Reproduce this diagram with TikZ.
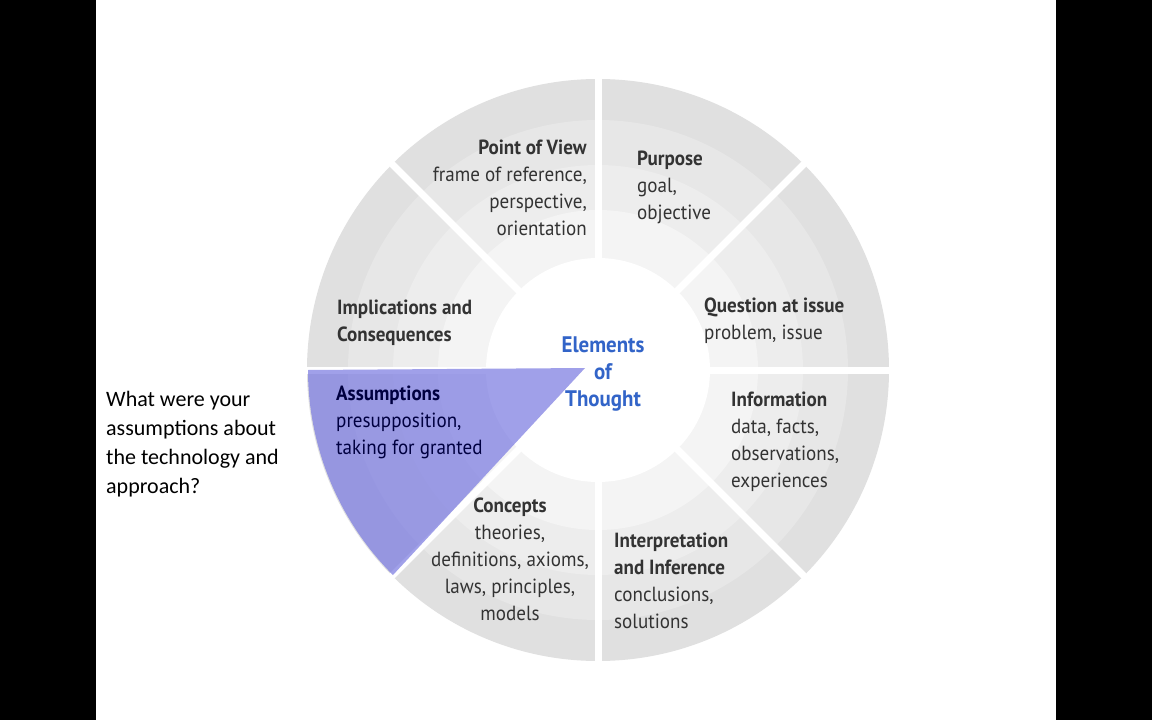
\documentclass[tikz,border=0pt]{standalone}
\usepackage{fontspec}
\setmainfont{PT Sans}[FakeStretch=0.93]
\newfontfamily\calfont{Carlito}
\definecolor{wedge}{RGB}{120,120,225}
\definecolor{elblue}{RGB}{50,100,200}
\begin{document}
\begin{tikzpicture}[x=1pt,y=-1pt,
  bl/.style={font=\fontsize{20.5}{27}\selectfont, text=black!80, inner sep=0pt}]
\useasboundingbox (0,0) rectangle (1152,720);
\fill[black] (0,0) rectangle (96,720);
\fill[black] (1056,0) rectangle (1152,720);
\fill[white] (96,0) rectangle (1056,720);
\coordinate (c) at (598,370);
\fill[gray!24] (c) circle (291);
\fill[gray!19] (c) circle (250);
\fill[gray!14] (c) circle (205);
\fill[gray!9] (c) circle (160);
\fill[white] (c) circle (112);
\foreach \a in {0,45,...,315}
  \draw[white,line width=7pt] (c) -- ++(\a:-300);
\fill[wedge,opacity=0.7] (585,368) -- (308,370) arc[start angle=180,end angle=135,radius=290] -- cycle;
\node[bl,anchor=north east,align=right] (pv) at (587,140) {\textbf{Point of View}\\frame of reference,\\perspective,\\orientation};
\node[bl,anchor=north west,align=left] (pu) at (637,151) {\textbf{Purpose}\\goal,\\objective};
\node[bl,anchor=north west,align=left] (qi) at (704,298) {\textbf{Question at issue}\\problem, issue};
\node[bl,anchor=north west,align=left] (in) at (731,392) {\textbf{Information}\\data, facts,\\observations,\\experiences};
\node[bl,anchor=north west,align=left] (ii) at (614,533) {\textbf{Interpretation}\\\textbf{and Inference}\\conclusions,\\solutions};
\node[bl,anchor=north,align=center] (co) at (510,498) {\textbf{Concepts}\\theories,\\definitions, axioms,\\laws, principles,\\models};
\node[bl,anchor=north west,align=left,text=black!75!blue] (as) at (336,386) {\textbf{Assumptions}\\presupposition,\\taking for granted};
\node[bl,anchor=north west,align=left] (im) at (337,300) {\textbf{Implications and}\\\textbf{Consequences}};
\node[bl,anchor=north,align=center,text=elblue,font=\fontsize{22.5}{27}\selectfont\bfseries] (el) at (603,337) {Elements\\of\\Thought};
\node[inner sep=0pt,anchor=north west,align=left,font=\calfont\fontsize{22}{29}\selectfont] (q) at (106,391) {What were your\\assumptions about\\the technology and\\approach?};
\end{tikzpicture}
\end{document}
